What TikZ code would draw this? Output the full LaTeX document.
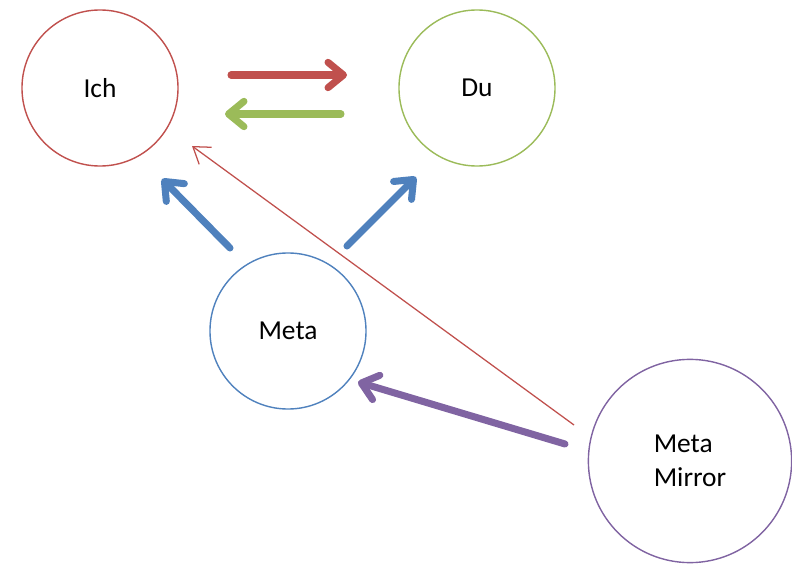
\documentclass[tikz,border=0pt]{standalone}
\usepackage{fontspec}
\setmainfont{Carlito}
\usetikzlibrary{arrows.meta}

\definecolor{ichred}{HTML}{C0504D}
\definecolor{dugreen}{HTML}{9BBB59}
\definecolor{metablue}{HTML}{4F81BD}
\definecolor{mirrorviolet}{HTML}{8064A2}

\begin{document}
\begin{tikzpicture}[x=0.025cm, y=-0.025cm,
    bubble/.style={circle, draw, line width=1pt, inner sep=0pt, minimum size=3.9cm,
                   font=\fontsize{19.5}{24.5}\selectfont},
    fat arrow/.style={line width=5pt, line cap=round,
                   -{Straight Barb[length=11pt, width=18pt, round]}}]
    \useasboundingbox (0, 0) rectangle (792, 565);

    % the four bubbles
    \node[bubble, ichred] (ich) at (100, 88) {\color{black}Ich};
    \node[bubble, dugreen] (du) at (477, 88) {\color{black}Du};
    \node[bubble, metablue] (meta) at (288, 331) {\color{black}Meta};
    \node[bubble, mirrorviolet, minimum size=5.08cm, align=left] (mirror) at (690, 461)
        {\color{black}Meta\\\color{black}Mirror};

    % arrow ends
    \coordinate (ichout) at (231, 75);
    \coordinate (duin) at (347, 75);
    \coordinate (duout) at (341, 114);
    \coordinate (ichin) at (225, 114);
    \coordinate (metaleft) at (230, 248);
    \coordinate (ichlow) at (162, 179);
    \coordinate (metaright) at (347, 246);
    \coordinate (dulow) at (416, 177);
    \coordinate (mirrorup) at (574, 425);
    \coordinate (ichdiag) at (192, 146);
    \coordinate (mirrorleft) at (565, 444);
    \coordinate (metalow) at (358, 382);

    \draw[fat arrow, ichred] (ichout) -- (duin);
    \draw[fat arrow, dugreen] (duout) -- (ichin);
    \draw[fat arrow, metablue] (metaleft) -- (ichlow);
    \draw[fat arrow, metablue] (metaright) -- (dulow);
    \draw[ichred, line width=0.9pt, -{Straight Barb[length=11pt, width=15pt]}] (mirrorup) -- (ichdiag);
    \draw[fat arrow, mirrorviolet] (mirrorleft) -- (metalow);
\end{tikzpicture}
\end{document}
